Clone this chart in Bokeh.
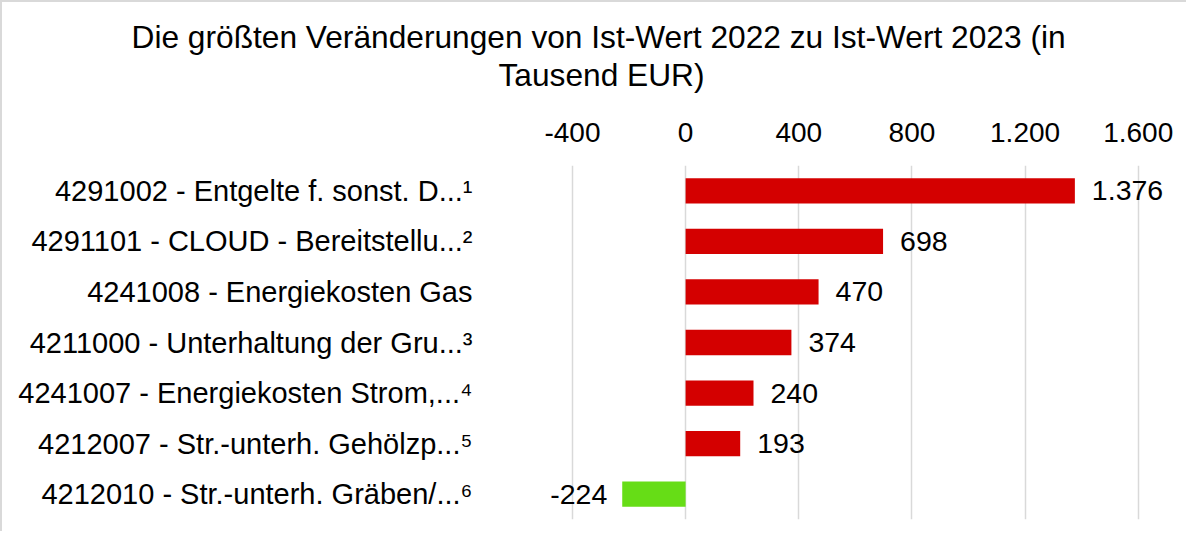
from bokeh.plotting import figure
from bokeh.models import FixedTicker, Title, FactorRange, ColumnDataSource
from bokeh.embed import file_html
from bokeh.resources import INLINE
from bokeh.core.properties import value

categories = [
    "4291002 - Entgelte f. sonst. D...¹",
    "4291101 - CLOUD - Bereitstellu...²",
    "4241008 - Energiekosten Gas",
    "4211000 - Unterhaltung der Gru...³",
    "4241007 - Energiekosten Strom,...⁴",
    "4212007 - Str.-unterh. Gehölzp...⁵",
    "4212010 - Str.-unterh. Gräben/...⁶",
]
values = [1376, 698, 470, 374, 240, 193, -224]
tick_values = [-400, 0, 400, 800, 1200, 1600]
tick_labels = ["-400", "0", "400", "800", "1.200", "1.600"]
title_lines = ["Die größten Veränderungen von Ist-Wert 2022 zu Ist-Wert 2023 (in", "Tausend EUR)"]

RED = "#D40000"
GREEN = "#66DD16"
FONT = "Liberation Sans"

W, H = 1186, 531
labels_txt = [f"{v:,}".replace(",", ".") for v in values]
colors = [RED if v >= 0 else GREEN for v in values]


def subset(cond):
    idx = [i for i, v in enumerate(values) if cond(v)]
    return ColumnDataSource(dict(
        cat=[categories[i] for i in idx],
        val=[values[i] for i in idx],
        lab=[labels_txt[i] for i in idx],
        col=[colors[i] for i in idx],
    ))


src_pos = subset(lambda v: v >= 0)
src_neg = subset(lambda v: v < 0)

p = figure(
    width=W, height=H,
    y_range=FactorRange(*list(reversed(categories)), range_padding=0),
    x_range=(-520, 1760),
    x_axis_location="above",
    output_backend="svg", toolbar_location=None,
    min_border_left=536, min_border_right=5,
    min_border_top=163, min_border_bottom=14,
)
p.styles = {"border-left": "2px solid #d9d9d9", "border-top": "2px solid #d9d9d9"}
p.outline_line_color = None
p.background_fill_color = "white"
p.border_fill_color = "white"

p.hbar(y="cat", right="val", left=0, height=0.5, fill_color="col", line_color=None, source=src_pos)
p.hbar(y="cat", right="val", left=0, height=0.5, fill_color="col", line_color=None, source=src_neg)

p.text(x="val", y="cat", text="lab", source=src_pos, x_offset=17,
       text_font=value(FONT), text_font_size="28.5px", text_color="black",
       text_align="left", text_baseline="middle")
p.text(x="val", y="cat", text="lab", source=src_neg, x_offset=-15,
       text_font=value(FONT), text_font_size="28.5px", text_color="black",
       text_align="right", text_baseline="middle")

xa = p.xaxis[0]
xa.ticker = FixedTicker(ticks=tick_values)
xa.major_label_overrides = {t: l for t, l in zip(tick_values, tick_labels)}
xa.axis_line_color = None
xa.major_tick_line_color = None
xa.minor_tick_line_color = None
xa.major_label_text_font = FONT
xa.major_label_text_font_size = "28px"
xa.major_label_text_color = "black"
xa.major_label_standoff = 18

ya = p.yaxis[0]
ya.axis_line_color = None
ya.major_tick_line_color = None
ya.minor_tick_line_color = None
ya.major_label_text_font = FONT
ya.major_label_text_font_size = "29px"
ya.major_label_text_color = "black"
ya.major_label_standoff = 60

p.xgrid.ticker = FixedTicker(ticks=tick_values)
p.xgrid.grid_line_color = "#d9d9d9"
p.xgrid.grid_line_width = 1.5
p.ygrid.grid_line_color = None

# empty spacer panel between the axis labels and the title
spacer = Title(text=" ", text_font=FONT, text_font_size="10px", standoff=14)
p.add_layout(spacer, "above")

# second title line
t2 = Title(text=title_lines[1], align="left", offset=-40, standoff=0,
           text_font=FONT, text_font_size="31.7px", text_font_style="normal",
           text_color="black")
p.add_layout(t2, "above")

# first title line (outermost)
p.title.text = title_lines[0]
p.title.align = "left"
p.title.offset = -407
p.title.standoff = 0
p.title.text_font = FONT
p.title.text_font_size = "31.7px"
p.title.text_font_style = "normal"
p.title.text_color = "black"

open("out.html", "w").write(file_html(p, INLINE))
